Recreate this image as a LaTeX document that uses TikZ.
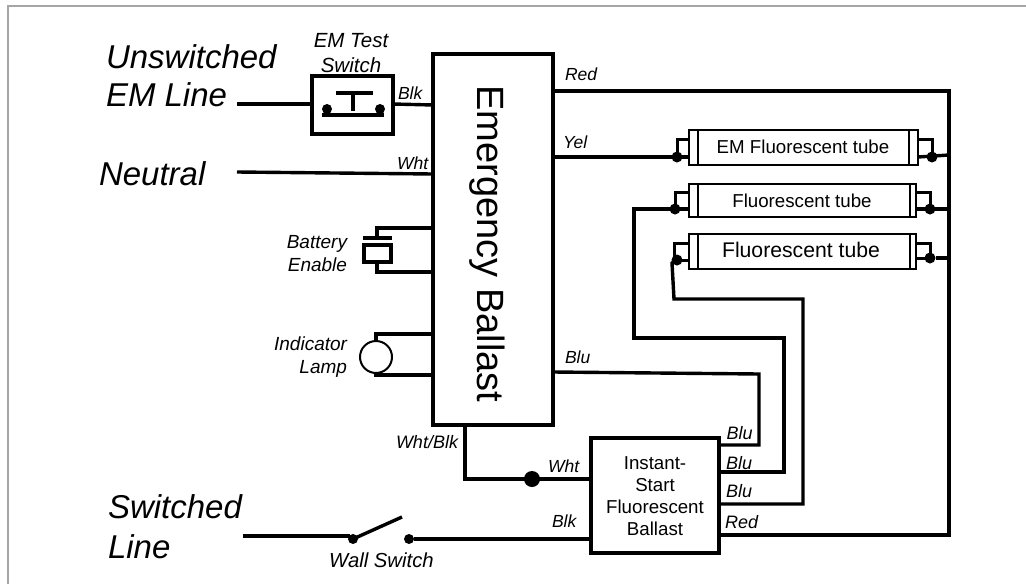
\documentclass[tikz,border=0pt]{standalone}
\usepackage{fontspec}
\setmainfont{Liberation Sans}[ItalicFont={Liberation Sans Italic}]
\newcommand{\fs}[1]{\fontsize{#1}{#1}\selectfont}
\tikzset{
  wire/.style={line width=3.4pt,line cap=butt,line join=miter},
  thinwire/.style={line width=3pt,line join=miter},
  boxthick/.style={draw,line width=3.6pt,inner sep=0pt,outer sep=0pt,fill=white},
  tube/.style={draw,line width=2pt,inner sep=0pt,outer sep=0pt,fill=white},
  dotn/.style={circle,fill=black,inner sep=0pt,outer sep=0pt},
  big/.style={inner sep=0pt,outer sep=0pt,anchor=base west,align=left,font=\itshape\fontsize{33}{38}\selectfont},
  lab/.style={inner sep=0pt,outer sep=0pt,anchor=base west,font=\itshape\fs{17.5}},
  mid/.style={inner sep=0pt,outer sep=0pt,anchor=base,align=center,font=\itshape\fontsize{19.5}{23}\selectfont},
  tubetxt/.style={inner sep=0pt,outer sep=0pt,anchor=base,font=\fs{18.7}},
}
\begin{document}
\begin{tikzpicture}[x=1pt,y=-1pt]
\useasboundingbox (0,0) rectangle (1026,584);
\draw[line width=2pt,color=black!35] (8,584) -- (8,6) -- (1026,6);

% main boxes
\node[boxthick,minimum width=120pt,minimum height=371pt] (eb) at (493,239.5) {};
\node[boxthick,minimum width=128pt,minimum height=115pt] (ib) at (655,495.5) {};
\node[boxthick,minimum width=81pt,minimum height=58pt] (ts) at (352.5,105) {};

% text in boxes
\node[inner sep=0pt,rotate=-90,font=\fs{38}] (ebt) at (487,244) {Emergency Ballast};
\node[inner sep=0pt,anchor=base,align=center,font=\fontsize{18.7}{21.7}\selectfont] (ibt) at (655,535) {Instant-\\Start\\Fluorescent\\Ballast};

% side labels
\node[big] (l1) at (106,106) {Unswitched\\EM Line};
\node[big] (l2) at (99,185) {Neutral};
\node[big,font=\itshape\fontsize{33}{40}\selectfont] (l3) at (108,558) {Switched\\Line};
\node[mid,font=\itshape\fontsize{20.5}{25}\selectfont] (l4) at (351,72) {EM Test\\Switch};
\node[mid,align=right,anchor=base east,font=\itshape\fontsize{19}{23}\selectfont] (l5) at (347,271) {Battery\\Enable};
\node[mid,align=right,anchor=base east,font=\itshape\fontsize{19}{23}\selectfont] (l6) at (347,373) {Indicator\\Lamp};
\node[mid,font=\itshape\fs{20.3}] (l7) at (381.5,567) {Wall Switch};

% wire labels
\node[lab] (w1) at (398,99) {Blk};
\node[lab] (w2) at (397,169) {Wht};
\node[lab] (w3) at (565,80) {Red};
\node[lab] (w4) at (563,148) {Yel};
\node[lab] (w5) at (565,363) {Blu};
\node[lab,font=\itshape\fs{18}] (w6) at (396,448) {Wht/Blk};
\node[lab] (w7) at (548,472) {Wht};
\node[lab] (w8) at (552,527) {Blk};
\node[lab,font=\itshape\fs{18}] (w9) at (726.5,439) {Blu};
\node[lab,font=\itshape\fs{18}] (w10) at (726,469) {Blu};
\node[lab,font=\itshape\fs{18}] (w11) at (726,497) {Blu};
\node[lab,font=\itshape\fs{18}] (w12) at (725,528) {Red};

% free ends
\coordinate (in1) at (237,104);
\coordinate (in2) at (237,172);
\coordinate (in3) at (243,536);

% tubes
\node[tube,minimum width=229pt,minimum height=35pt] (t1) at (803.5,147.5) {};
\node[tube,minimum width=227pt,minimum height=33pt] (t2) at (802.5,200.5) {};
\node[tube,minimum width=227pt,minimum height=35pt] (t3) at (802.5,251.5) {};
\node[tubetxt] (t1t) at (803,153) {EM Fluorescent tube};
\node[tubetxt] (t2t) at (802,207) {Fluorescent tube};
\node[tubetxt,font=\fs{21.2}] (t3t) at (801,257) {Fluorescent tube};
\draw[line width=2pt] (698,130) -- (698,165) (909,130) -- (909,165);
\draw[line width=2pt] (698,184) -- (698,217) (910,184) -- (910,217);
\draw[line width=2pt] (698,234) -- (698,269) (910,234) -- (910,269);

% tube pins
\node[dotn,minimum size=11pt] (t1a) at (677,157) {};
\node[dotn,minimum size=11pt] (t1b) at (932,157) {};
\node[dotn,minimum size=11pt] (t2a) at (675,209) {};
\node[dotn,minimum size=11pt] (t2b) at (930,209) {};
\node[dotn,minimum size=11pt] (t3a) at (677,260) {};
\node[dotn,minimum size=11pt] (t3b) at (930,258) {};
\draw[thinwire] (t1.west |- 0,139) -| (t1a.center);
\draw[thinwire] (t1.east |- 0,139) -| (t1b.center);
\draw[thinwire] (t2.west |- 0,192) -| (t2a.center);
\draw[thinwire] (t2.east |- 0,192) -| (t2b.center);
\draw[thinwire] (t3.west |- 0,243) -| (674,257);
\draw[thinwire] (t3.east |- 0,243) -| (t3b.center);
\draw[thinwire] (t3a.center) -- (t3.west |- t3a);
\draw[thinwire] (t3b.center) -- (t3.east |- t3b);

% wires
\draw[wire] (in1) -- (ts.west |- in1);
\draw[wire] (ts.east |- in1) -- (eb.west |- 0,105);
\draw[wire] (in2) -- (eb.west |- 0,174);
\draw[wire] (eb.east |- 0,91) -- (949,91) |- (ib.east |- 0,535);
\draw[wire] (eb.east |- t1a) -- (t1a.center) -- (t1.west |- t1a);
\draw[wire] (t1.east |- t1b) -- (949,155);
\draw[wire] (t2.west |- t2a) -- (634,209) |- (784,338) |- (ib.east |- 0,472);
\draw[wire] (t2.east |- t2b) -- (949,209);
\draw[wire] (t3b) -- (949,258);
\draw[wire] (t3a.center) -- (672,263) -- (674,299) -| (803,504) -- (ib.east |- 0,504);
\draw[wire] (eb.east |- 0,372) -- (759,374) |- (ib.east |- 0,445);
\draw[wire] (465,425) |- (ib.west |- 0,479);
\node[dotn,minimum size=16pt] (j) at (532,479) {};

% test switch
\node[dotn,minimum size=10pt] (s1) at (327,109) {};
\node[dotn,minimum size=10pt] (s2) at (380,109) {};
\draw[wire] (322,115) -- (384,115);
\draw[wire] (336,93) -- (373,93);
\draw[wire] (353,93) -- (353,111);

% battery
\draw[wire] (eb.west |- 0,228) -| (377,238);
\draw[wire] (363,238) -- (392,238);
\draw[line width=3.4pt] (364,245) rectangle (391,262);
\draw[wire] (377,262) |- (eb.west |- 0,272);

% lamp
\node[circle,draw,line width=2pt,inner sep=0pt,outer sep=0pt,minimum size=32pt] (lamp) at (376,357) {};
\draw[wire] (eb.west |- 0,334) -| (lamp.north);
\draw[wire] (eb.west |- 0,375) -| (lamp.south);

% wall switch
\node[dotn,minimum size=10pt] (ws1) at (353,539) {};
\node[dotn,minimum size=10pt] (ws2) at (409,539) {};
\coordinate (wsarm) at (402,517);
\draw[wire] (in3) -- (350,536);
\draw[wire] (ws1.center) -- (wsarm);
\draw[wire] (ws2) -- (ib.west |- ws2);
\end{tikzpicture}
\end{document}
